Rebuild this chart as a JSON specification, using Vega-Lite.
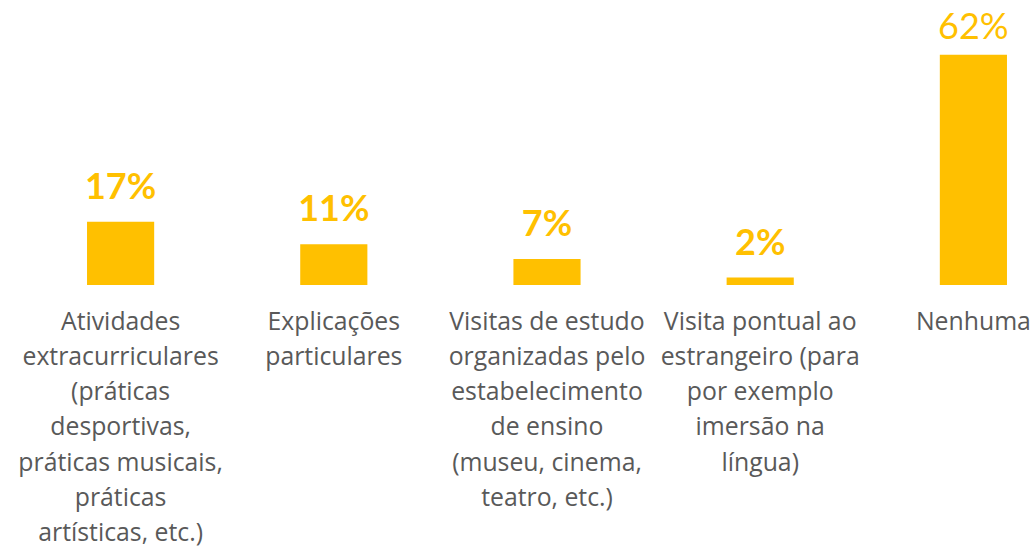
{
  "$schema": "https://vega.github.io/schema/vega-lite/v6.json",
  "autosize": {"type": "none"},
  "padding": {"left": 14, "top": 25, "right": 0, "bottom": 265},
  "width": 1066,
  "height": 260,
  "background": "white",
  "config": {"view": {"stroke": null}, "font": "Lato"},
  "data": {
    "values": [
      {"cat": "Atividades|extracurriculares|(práticas|desportivas,|práticas musicais,|práticas|artísticas, etc.)", "value": 17, "label": "17%"},
      {"cat": "Explicações|particulares", "value": 11, "label": "11%"},
      {"cat": "Visitas de estudo|organizadas pelo|estabelecimento|de ensino|(museu, cinema,|teatro, etc.)", "value": 7, "label": "7%"},
      {"cat": "Visita pontual ao|estrangeiro (para|por exemplo|imersão na|língua)", "value": 2, "label": "2%"},
      {"cat": "Nenhuma", "value": 62, "label": "62%"}
    ]
  },
  "encoding": {
    "x": {
      "field": "cat",
      "type": "nominal",
      "sort": null,
      "scale": {"paddingInner": 0.685, "paddingOuter": 0.3425},
      "axis": {
        "title": null,
        "domain": false,
        "ticks": false,
        "labelAngle": 0,
        "labelExpr": "split(datum.label, '|')",
        "labelFont": "Open Sans",
        "labelFontSize": 24.8,
        "labelLineHeight": 35.3,
        "labelColor": "#595959",
        "labelBaseline": "top",
        "labelPadding": 24,
        "labelLimit": 400,
        "labelOverlap": false
      }
    },
    "y": {
      "field": "value",
      "type": "quantitative",
      "scale": {"domain": [0, 70]},
      "axis": null
    }
  },
  "layer": [
    {"mark": {"type": "bar", "color": "#FFC000"}},
    {
      "transform": [{"filter": "datum.value < 50"}],
      "mark": {"type": "text", "color": "#FFC000", "font": "Lato", "fontSize": 36, "fontWeight": "bold", "baseline": "alphabetic", "dy": -23},
      "encoding": {"text": {"field": "label"}}
    },
    {
      "transform": [{"filter": "datum.value >= 50"}],
      "mark": {"type": "text", "color": "#FFC000", "font": "Lato", "fontSize": 36, "baseline": "alphabetic", "dy": -16},
      "encoding": {"text": {"field": "label"}}
    }
  ]
}
